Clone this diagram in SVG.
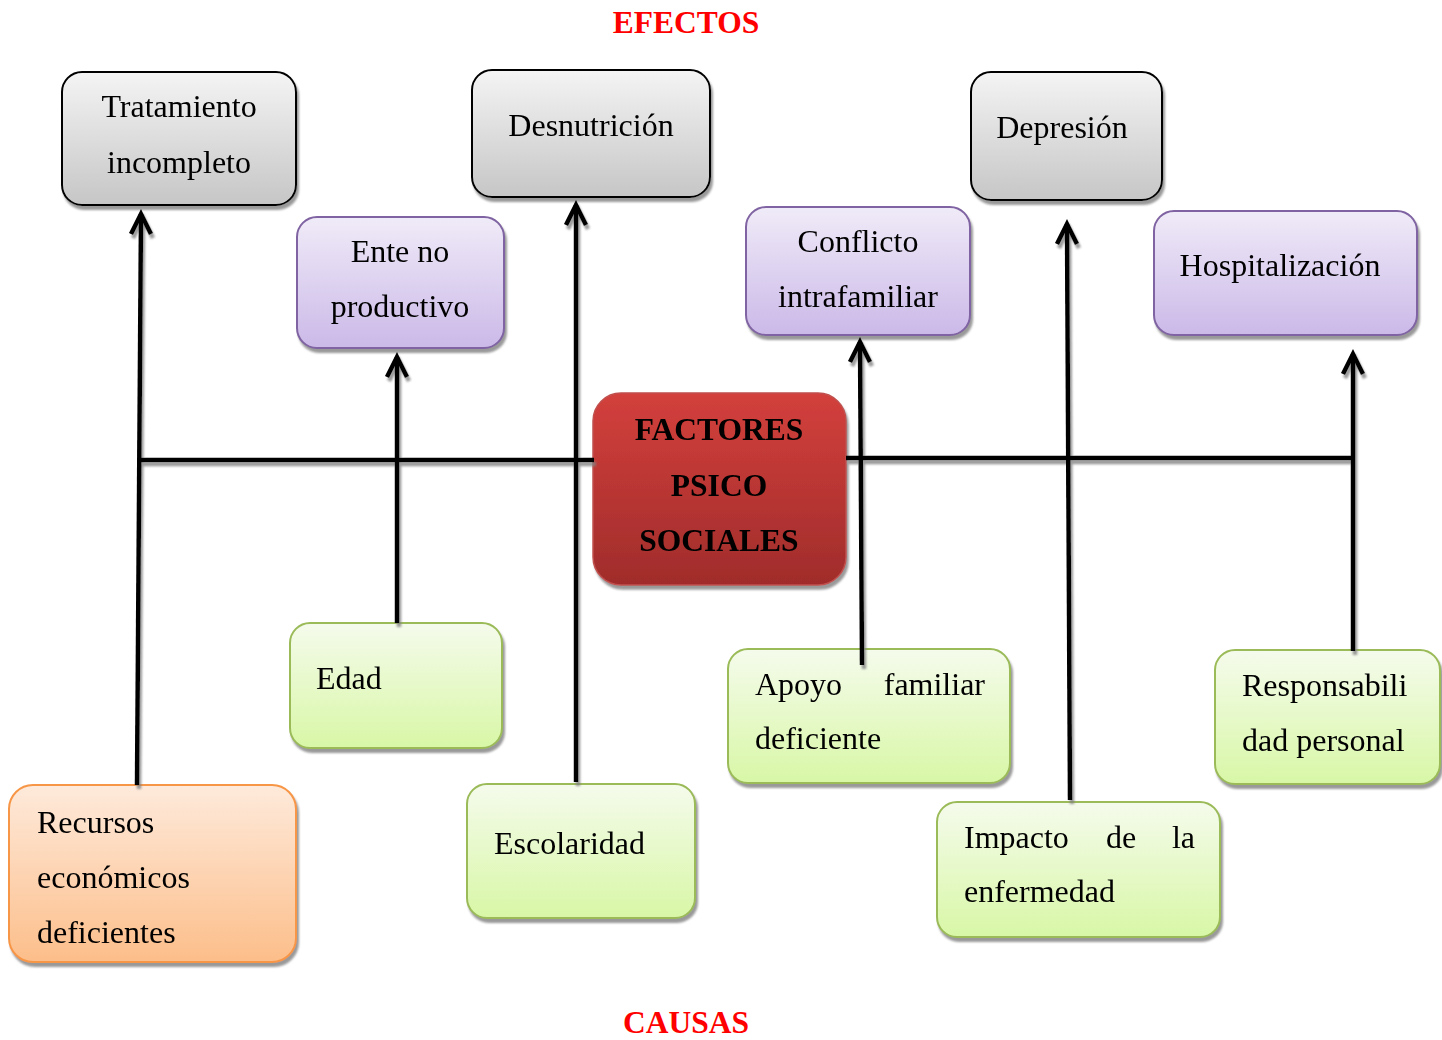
<svg xmlns="http://www.w3.org/2000/svg" width="1442" height="1040" viewBox="0 0 1442 1040">
  <style>
    .t { font-family: "Liberation Serif", "Times New Roman", serif; font-size: 32px; fill: #000; }
    .c { text-anchor: middle; }
    .e { text-anchor: end; }
    .b { font-weight: bold; font-size: 31.5px; }
    .hdr { font-family: "Liberation Serif", "Times New Roman", serif; font-size: 31.5px; font-weight: bold; fill: #ff0000; text-anchor: middle; }
    .gray { fill: url(#gGray); stroke: #000; stroke-width: 2; }
    .purple { fill: url(#gPurple); stroke: #8064a2; stroke-width: 2; }
    .green { fill: url(#gGreen); stroke: #9bbb59; stroke-width: 2; }
    .orange { fill: url(#gOrange); stroke: #f79646; stroke-width: 2; }
    .red { fill: url(#gRed); stroke: #c0504d; stroke-width: 1.5; }
    .ln { fill: none; stroke: #000; stroke-width: 4.5; }
    .ah { fill: none; stroke: #000; stroke-width: 4.5; stroke-linecap: butt; stroke-linejoin: miter; }
  </style>
  <defs>
    <linearGradient id="gGray" x1="0" y1="0" x2="0" y2="1">
      <stop offset="0" stop-color="#f4f4f4"/>
      <stop offset="1" stop-color="#c6c6c6"/>
    </linearGradient>
    <linearGradient id="gPurple" x1="0" y1="0" x2="0" y2="1">
      <stop offset="0" stop-color="#f0ebf8"/>
      <stop offset="1" stop-color="#cbb9e8"/>
    </linearGradient>
    <linearGradient id="gGreen" x1="0" y1="0" x2="0" y2="1">
      <stop offset="0" stop-color="#f5fbec"/>
      <stop offset="1" stop-color="#d8f7a6"/>
    </linearGradient>
    <linearGradient id="gOrange" x1="0" y1="0" x2="0" y2="1">
      <stop offset="0" stop-color="#feeadb"/>
      <stop offset="1" stop-color="#fcbe8a"/>
    </linearGradient>
    <linearGradient id="gRed" x1="0" y1="0" x2="0" y2="1">
      <stop offset="0" stop-color="#d3403c"/>
      <stop offset="1" stop-color="#a02c2b"/>
    </linearGradient>
    <filter id="shadow" x="-10%" y="-10%" width="130%" height="130%">
      <feDropShadow dx="2" dy="4" stdDeviation="1.2" flood-color="#808080" flood-opacity="0.8"/>
    </filter>
  </defs>

  <rect width="1442" height="1040" fill="#fff"/>

  <text class="hdr" x="686" y="33">EFECTOS</text>
  <text class="hdr" x="686" y="1033">CAUSAS</text>

  <!-- effects -->
  <g id="tratamiento" filter="url(#shadow)">
    <rect class="gray" x="62" y="72" width="234" height="133" rx="20"/>
    <text class="t c" x="179" y="117">Tratamiento</text>
    <text class="t c" x="179" y="173">incompleto</text>
  </g>
  <g id="desnutricion" filter="url(#shadow)">
    <rect class="gray" x="472" y="70" width="238" height="127" rx="20"/>
    <text class="t c" x="591" y="136">Desnutrición</text>
  </g>
  <g id="depresion" filter="url(#shadow)">
    <rect class="gray" x="971" y="72" width="191" height="128" rx="20"/>
    <text class="t c" x="1062" y="138">Depresión</text>
  </g>
  <g id="ente" filter="url(#shadow)">
    <rect class="purple" x="297" y="217" width="207" height="131" rx="20"/>
    <text class="t c" x="400" y="262">Ente no</text>
    <text class="t c" x="400" y="317">productivo</text>
  </g>
  <g id="conflicto" filter="url(#shadow)">
    <rect class="purple" x="746" y="207" width="224" height="128" rx="20"/>
    <text class="t c" x="858" y="252">Conflicto</text>
    <text class="t c" x="858" y="307">intrafamiliar</text>
  </g>
  <g id="hospitalizacion" filter="url(#shadow)">
    <rect class="purple" x="1154" y="211" width="263" height="124" rx="20"/>
    <text class="t c" x="1280" y="276">Hospitalización</text>
  </g>

  <!-- central problem -->
  <g id="factores" filter="url(#shadow)">
    <rect class="red" x="593" y="393" width="253" height="192" rx="28"/>
    <text class="t c b" x="719" y="440">FACTORES</text>
    <text class="t c b" x="719" y="496">PSICO</text>
    <text class="t c b" x="719" y="551">SOCIALES</text>
  </g>

  <!-- causes -->
  <g id="edad" filter="url(#shadow)">
    <rect class="green" x="290" y="623" width="212" height="125" rx="20"/>
    <text class="t" x="316" y="689">Edad</text>
  </g>
  <g id="escolaridad" filter="url(#shadow)">
    <rect class="green" x="467" y="784" width="228" height="134" rx="20"/>
    <text class="t" x="494" y="854">Escolaridad</text>
  </g>
  <g id="recursos" filter="url(#shadow)">
    <rect class="orange" x="9" y="785" width="287" height="177" rx="24"/>
    <text class="t" x="37" y="833">Recursos</text>
    <text class="t" x="37" y="888">económicos</text>
    <text class="t" x="37" y="943">deficientes</text>
  </g>
  <g id="apoyo" filter="url(#shadow)">
    <rect class="green" x="728" y="649" width="282" height="134" rx="20"/>
    <text class="t" x="755" y="695">Apoyo</text>
    <text class="t e" x="985" y="695">familiar</text>
    <text class="t" x="755" y="749">deficiente</text>
  </g>
  <g id="impacto" filter="url(#shadow)">
    <rect class="green" x="937" y="802" width="283" height="135" rx="20"/>
    <text class="t" x="964" y="848">Impacto</text>
    <text class="t" x="1106" y="848">de</text>
    <text class="t e" x="1195" y="848">la</text>
    <text class="t" x="964" y="902">enfermedad</text>
  </g>
  <g id="responsabilidad" filter="url(#shadow)">
    <rect class="green" x="1215" y="650" width="225" height="134" rx="20"/>
    <text class="t" x="1242" y="696">Responsabili</text>
    <text class="t" x="1242" y="751">dad personal</text>
  </g>

  <!-- spine and branches, drawn last so line ends sit on the box edges -->
  <g id="connectors" filter="url(#shadow)">
    <path class="ln" d="M137 460 H594"/>
    <path class="ln" d="M846 458 H1355"/>
    <path class="ln" d="M137 785 L141 214"/>
    <path class="ah" d="M131 234 L141 214 L151 234"/>
    <path class="ln" d="M397 623 V357"/>
    <path class="ah" d="M387 377 L397 357 L407 377"/>
    <path class="ln" d="M576 782 V205"/>
    <path class="ah" d="M566 225 L576 205 L586 225"/>
    <path class="ln" d="M862 665 L860 342"/>
    <path class="ah" d="M850 362 L860 342 L870 362"/>
    <path class="ln" d="M1070 800 L1067 224"/>
    <path class="ah" d="M1057 244 L1067 224 L1077 244"/>
    <path class="ln" d="M1353 651 V354"/>
    <path class="ah" d="M1343 374 L1353 354 L1363 374"/>
  </g>
</svg>
